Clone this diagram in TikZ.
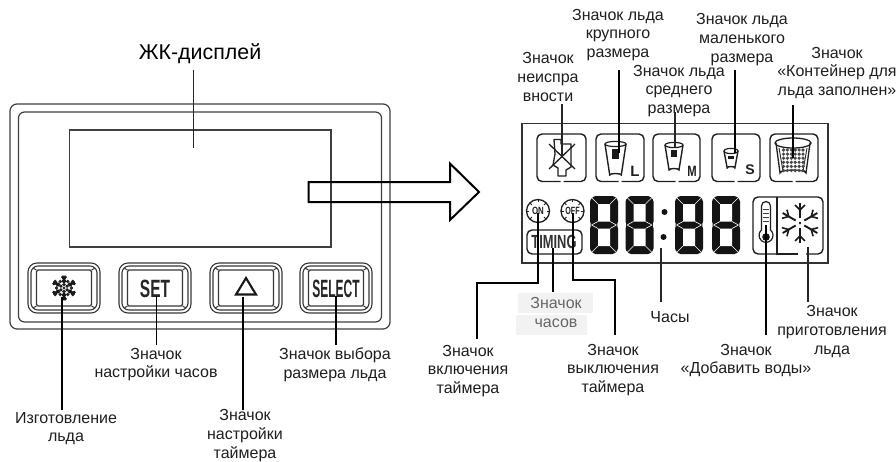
\documentclass[tikz,border=0pt]{standalone}
\usepackage{fontspec}
\setmainfont{Liberation Sans}
\tikzset{
  x=1pt,y=-1pt,
  lbl/.style={align=center,inner sep=0pt,text=black!88,font=\fontsize{16}{18.6}\selectfont},
  panelline/.style={draw=black!75,line width=1.2pt},
  lcdline/.style={draw=black!80,line width=1.3pt},
  lead/.style={draw=black,line width=1.5pt},
  thinlead/.style={draw=black!85,line width=1.1pt},
  iconbox/.style={draw=black!88,line width=1.4pt,rounded corners=5pt},
  capsb/.style={inner sep=0pt,font=\fontsize{25}{25}\bfseries\selectfont,text=black!85},
  pics/digit/.style={code={
    \fill[black!92,rounded corners=1.5pt] (4,0)--(24,0)--(28,4)--(28,27)--(26.5,29)--(28,31)--(28,54)--(24,58)--(4,58)--(0,54)--(0,31)--(1.5,29)--(0,27)--(0,4)--cycle;
    \fill[white] (8,8) rectangle (20,25.5) (8,32.5) rectangle (20,50);
    \draw[white,line width=.6pt] (1,1)--(8,8) (27,1)--(20,8) (1,57)--(8,50) (27,57)--(20,50)
      (1.5,29)--(8,25.5) (26.5,29)--(20,25.5) (1.5,29)--(8,32.5) (26.5,29)--(20,32.5);
  }},
  pics/pushbutton/.style={code={
    \draw[draw=black!78,line width=1.1pt,rounded corners=9pt] (0,0) rectangle (72,50);
    \draw[draw=black!78,line width=1.1pt,rounded corners=7pt] (3,3) rectangle (69,47);
    \draw[draw=black!78,line width=1.1pt,rounded corners=1.5pt] (8.5,7) rectangle (63.5,43);
    \draw[draw=black!78,line width=1pt] (5,5)--(8.5,7) (67,5)--(63.5,7) (5,45)--(8.5,43) (67,45)--(63.5,43);
  }},
  pics/clockface/.style={code={
    \draw[draw=black!88,line width=1.3pt] (0,0) circle[radius=11.5];
    \foreach \a in {0,45,...,315}{\draw[draw=black!88,line width=1pt] (\a:11.5)--(\a:8.6);}
  }},
}
\newcommand{\icecup}[4]{% cx top halfwidth height
  \draw[draw=black!88,line width=1.4pt] ({#1-#3},{#2+2}) -- ({#1-#3*0.55},{#2+#4}) arc[start angle=180,end angle=0,x radius={#3*0.55},y radius=-1.5] -- ({#1+#3},{#2+2});
  \draw[draw=black!88,line width=1.2pt] (#1,{#2+2}) ellipse[x radius=#3,y radius=2.6];
  \fill[black!90] ({#1-#3*0.38},{#2+7}) rectangle ({#1+#3*0.38},{#2+#4*0.5});
}
\begin{document}
\begin{tikzpicture}
\useasboundingbox (0,0) rectangle (896,461);
\fill[white] (0,0) rectangle (896,461);

% ---- panel
\draw[panelline,rounded corners=7pt] (10,104) rectangle (390,329);
\draw[panelline,rounded corners=6pt] (18.5,112) rectangle (381.5,322);
\draw[panelline] (69.5,130) rectangle (331,247);

\pic at (28,263) {pushbutton};
\pic at (119,263) {pushbutton};
\pic at (210,263) {pushbutton};
\pic at (300,263) {pushbutton};

% button faces
\begin{scope}[shift={(64,288)}]
  \foreach \a in {0,60,...,300}{
    \fill[black!85] (\a+90:3.6) circle[radius=1.9];
    \fill[black!90] (\a+90:7) circle[radius=2.1];
    \fill[black!90] (\a+90:10.4) circle[radius=2.1];
    \fill[black!85] (\a+120:7.5) circle[radius=1.9];
    \fill[black!90] (\a+90:8.5)++(\a+60:2.8) circle[radius=1.6];
    \fill[black!90] (\a+90:8.5)++(\a+120:2.8) circle[radius=1.6];
  }
  \fill[black!80] (0,0) circle[radius=1.7];
\end{scope}
\node[capsb] (setlabel) at (155,289) {\scalebox{0.62}[1]{SET}};
\draw[black!90,line width=2.1pt,line join=miter] (246,278)--(256,294.5)--(236,294.5)--cycle;
\node[capsb] (selectlabel) at (336,289) {\scalebox{0.48}[1]{SELECT}};

% ---- big arrow
\draw[black,line width=2pt,line join=miter] (308.5,182)--(450,182)--(450,163.5)--(479,192)--(450,220)--(450,202)--(308.5,202)--cycle;

% ---- LCD
\draw[lcdline] (522,123.5) rectangle (828,263);
\foreach \l/\r/\g in {537/586/562,596/644/620,653/700/677,712/760/736,770/818/794}{
  \draw[iconbox] (\g-1.5,181.5)--(\l,181.5)--(\l,134)--(\r,134)--(\r,181.5)--(\g+1.5,181.5);
}
% fault icon
\draw[black!88,line width=1.3pt,line join=round] (554,139.5)--(561,139.5)--(561,144)--(571,144)--(571,167)--(566,170)--(566,176)--(558,176)--(558,168)--(553,165)--(555,154)--cycle;
\draw[black!88,line width=1.3pt] (549,144)--(575,169) (575,144)--(549,169);
% cups
\icecup{615.5}{142}{10.5}{33}
\node[inner sep=0pt,font=\fontsize{15}{15}\bfseries\selectfont,text=black!88] (sizeL) at (635,171) {L};
\icecup{674}{143}{9}{27}
\node[inner sep=0pt,font=\fontsize{15}{15}\bfseries\selectfont,text=black!88] (sizeM) at (692,171) {\scalebox{0.75}[1]{M}};
\icecup{731}{149}{7}{19}
\node[inner sep=0pt,font=\fontsize{14}{14}\bfseries\selectfont,text=black!88] (sizeS) at (750,170) {S};
% full container
\draw[black!88,line width=1.3pt] (776,143)--(780,173) arc[start angle=180,end angle=0,x radius=13,y radius=-3]--(810,143);
\draw[black!88,line width=1.3pt] (793,143) ellipse[x radius=18,y radius=5];
\draw[black!85,line width=.9pt] (779,148)--(783,171) (807,148)--(803,171);
\foreach \i in {0,...,5}{\foreach \j in {0,...,5}{
  \fill[black!72] ({783.5+\i*3.9},{150+\j*4.1}) circle[radius=1.8];
}}
% clocks
\pic at (538,211) {clockface};
\pic at (572.5,211) {clockface};
\node[inner sep=0pt,font=\fontsize{10.5}{10.5}\bfseries\selectfont,text=black!88] (onlabel) at (538,211) {\scalebox{0.75}[1]{ON}};
\node[inner sep=0pt,font=\fontsize{10.5}{10.5}\bfseries\selectfont,text=black!88] (offlabel) at (572.5,211) {\scalebox{0.68}[1]{OFF}};
\draw[iconbox] (527,230) rectangle (582,254);
\node[inner sep=0pt,font=\fontsize{19}{19}\bfseries\selectfont,text=black!80] (timing) at (554,242) {\scalebox{0.68}[1]{TIMING}};
% digits
\pic at (590,196) {digit};
\pic at (625.5,196) {digit};
\pic at (675,196) {digit};
\pic at (712,196) {digit};
\fill[black!92] (664.5,212) circle[radius=3] (663.5,237) circle[radius=3];
% thermometer + snowflake box
\draw[iconbox] (785,254)--(753,254)--(753,197)--(823,197)--(823,254)--(806,254);
\draw[black!88,line width=1.3pt] (777,197)--(777,254)--(798,254);
\draw[black!88,line width=1.2pt] (761.5,230)--(761.5,206) arc[start angle=180,end angle=0,x radius=4.5,y radius=-4.5]--(770.5,230) arc[start angle=-50,end angle=230,radius=7];
\draw[black!75,line width=.9pt] (763,209)--(769,209) (763,213)--(769,213) (763,217)--(769,217) (763,221)--(769,221);
\fill[black!92] (766,237) circle[radius=3.8];
\begin{scope}[shift={(800,223)}]
  \foreach \a in {30,90,...,330}{
    \draw[black!90,line width=1.9pt] (\a:5)--(\a:20);
    \draw[black!90,line width=1.6pt] (\a:13)--++(\a+45:7) (\a:13)--++(\a-45:7);
  }
  \fill[black!90] (0,0) circle[radius=1.4];
\end{scope}

% ---- grey patches and labels
\fill[black!5] (518,293) rectangle (593,313);
\fill[black!5] (516,315) rectangle (587,335);

\node[lbl,font=\fontsize{21.4}{24}\selectfont,text=black] (lcdtitle) at (200,54) {ЖК-дисплей};
\node[lbl] (tset) at (156,364.5) {Значок\\настройки часов};
\node[lbl] (tsel) at (335,364.5) {Значок выбора\\размера льда};
\node[lbl] (tmake) at (66,428.5) {Изготовление\\льда};
\node[lbl] (ttimer) at (245,435.5) {Значок\\настройки\\таймера};
\node[lbl] (tL) at (618,35) {Значок льда\\крупного\\размера};
\node[lbl] (tfault) at (548,77) {Значок\\неиспра\\вности};
\node[lbl] (tM) at (679,91) {Значок льда\\среднего\\размера};
\node[lbl] (tS) at (742,39.5) {Значок льда\\маленького\\размера};
\node[lbl] (tfull) at (837,73) {Значок\\«Контейнер для\\льда заполнен»};
\node[lbl,text=black!60] (tclock) at (556,312.5) {Значок\\часов};
\node[lbl] (ton) at (468,371) {Значок\\включения\\таймера};
\node[lbl] (toff) at (613,370) {Значок\\выключения\\таймера};
\node[lbl] (ttime) at (670,317) {Часы};
\node[lbl] (twater) at (746,360.5) {Значок\\«Добавить воды»};
\node[lbl] (tice) at (832,331.5) {Значок\\приготовления\\льда};

% ---- connector ends
\coordinate (a1) at (193.5,70);   \coordinate (a2) at (193.5,147.5);
\coordinate (b1) at (62,297);     \coordinate (b2) at (62,410);
\coordinate (c1) at (156.5,296);  \coordinate (c2) at (156.5,345);
\coordinate (d1) at (243,297);    \coordinate (d2) at (243,410);
\coordinate (e1) at (336,296);    \coordinate (e2) at (336,345);
\coordinate (f1) at (562,104);    \coordinate (f2) at (562,158);
\coordinate (g1) at (619,70);     \coordinate (g2) at (619,153);
\coordinate (h1) at (675,112);    \coordinate (h2) at (675,147);
\coordinate (i1) at (735,70);     \coordinate (i2) at (735,153);
\coordinate (j1) at (793,105);    \coordinate (j2) at (793,158);
\coordinate (k1) at (538,213);    \coordinate (k2) at (477,339);
\coordinate (l1) at (553,248);    \coordinate (l2) at (553,292);
\coordinate (m1) at (573,213);    \coordinate (m2) at (615,335);
\coordinate (n1) at (661,248);    \coordinate (n2) at (661,302);
\coordinate (o1) at (766,225);    \coordinate (o2) at (766,335);
\coordinate (p1) at (808,247);    \coordinate (p2) at (808,302);

\draw[thinlead] (a1)--(a2);
\draw[lead] (b1)--(b2);
\draw[lead] (c1)--(c2);
\draw[lead] (d1)--(d2);
\draw[lead] (e1)--(e2);
\draw[thinlead] (f1)--(f2);
\draw[lead] (g1)--(g2);
\draw[thinlead] (h1)--(h2);
\draw[lead] (i1)--(i2);
\draw[lead,line width=1.9pt] (j1)--(j2);
\draw[lead] (k1)|-(477,283)--(k2);
\draw[lead] (l1)--(l2);
\draw[lead] (m1)|-(615,280)--(m2);
\draw[thinlead,line width=1.2pt] (n1)--(n2);
\draw[lead,line width=1.8pt] (o1)--(o2);
\draw[thinlead,line width=1.2pt] (p1)--(p2);
\end{tikzpicture}
\end{document}
